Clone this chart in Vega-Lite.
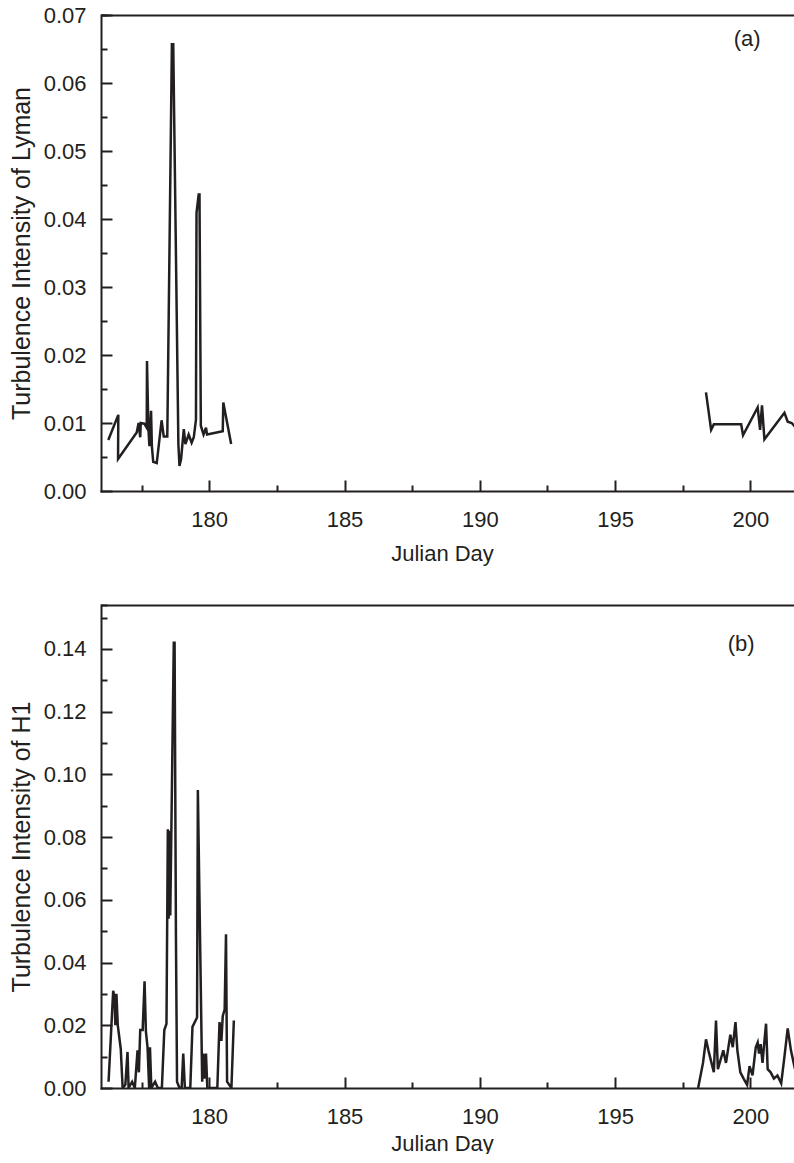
{
  "$schema": "https://vega.github.io/schema/vega-lite/v6.json",
  "padding": {"left": 9, "top": 4, "right": 0, "bottom": 0},
  "spacing": 40,
  "config": {
    "font": "Liberation Sans, sans-serif",
    "view": {"stroke": null},
    "axis": {
      "domainColor": "#231f20", "domainWidth": 2, "tickColor": "#231f20", "tickWidth": 2,
      "labelColor": "#231f20", "labelFontSize": 22, "titleColor": "#231f20", "titleFontSize": 22,
      "titleFontWeight": "normal", "labelFlush": false, "labelOverlap": false, "domainCap": "square"
    },
    "text": {"font": "Liberation Sans, sans-serif"}
  },
  "datasets": {
    "lyman": [
      {"i": 1, "seg": 1, "day": 176.27, "val": 0.0075},
      {"i": 2, "seg": 1, "day": 176.64, "val": 0.0112},
      {"i": 3, "seg": 1, "day": 176.63, "val": 0.0047},
      {"i": 4, "seg": 1, "day": 177.32, "val": 0.0086},
      {"i": 5, "seg": 1, "day": 177.39, "val": 0.0100},
      {"i": 6, "seg": 1, "day": 177.45, "val": 0.0079},
      {"i": 7, "seg": 1, "day": 177.47, "val": 0.0100},
      {"i": 8, "seg": 1, "day": 177.60, "val": 0.0099},
      {"i": 9, "seg": 1, "day": 177.69, "val": 0.0093},
      {"i": 10, "seg": 1, "day": 177.70, "val": 0.0191},
      {"i": 11, "seg": 1, "day": 177.75, "val": 0.0093},
      {"i": 12, "seg": 1, "day": 177.79, "val": 0.0066},
      {"i": 13, "seg": 1, "day": 177.85, "val": 0.0118},
      {"i": 14, "seg": 1, "day": 177.88, "val": 0.0066},
      {"i": 15, "seg": 1, "day": 177.93, "val": 0.0043},
      {"i": 16, "seg": 1, "day": 178.06, "val": 0.0041},
      {"i": 17, "seg": 1, "day": 178.24, "val": 0.0104},
      {"i": 18, "seg": 1, "day": 178.32, "val": 0.0080},
      {"i": 19, "seg": 1, "day": 178.45, "val": 0.0080},
      {"i": 20, "seg": 1, "day": 178.62, "val": 0.0657},
      {"i": 21, "seg": 1, "day": 178.67, "val": 0.0657},
      {"i": 22, "seg": 1, "day": 178.86, "val": 0.0069},
      {"i": 23, "seg": 1, "day": 178.90, "val": 0.0037},
      {"i": 24, "seg": 1, "day": 178.96, "val": 0.0047},
      {"i": 25, "seg": 1, "day": 179.06, "val": 0.0091},
      {"i": 26, "seg": 1, "day": 179.12, "val": 0.0069},
      {"i": 27, "seg": 1, "day": 179.24, "val": 0.0083},
      {"i": 28, "seg": 1, "day": 179.35, "val": 0.0071},
      {"i": 29, "seg": 1, "day": 179.43, "val": 0.0079},
      {"i": 30, "seg": 1, "day": 179.51, "val": 0.0105},
      {"i": 31, "seg": 1, "day": 179.53, "val": 0.0409},
      {"i": 32, "seg": 1, "day": 179.61, "val": 0.0436},
      {"i": 33, "seg": 1, "day": 179.64, "val": 0.0436},
      {"i": 34, "seg": 1, "day": 179.69, "val": 0.0096},
      {"i": 35, "seg": 1, "day": 179.79, "val": 0.0083},
      {"i": 36, "seg": 1, "day": 179.88, "val": 0.0093},
      {"i": 37, "seg": 1, "day": 179.92, "val": 0.0083},
      {"i": 38, "seg": 1, "day": 180.50, "val": 0.0088},
      {"i": 39, "seg": 1, "day": 180.52, "val": 0.0130},
      {"i": 40, "seg": 1, "day": 180.81, "val": 0.0069},
      {"i": 41, "seg": 2, "day": 198.36, "val": 0.0145},
      {"i": 42, "seg": 2, "day": 198.55, "val": 0.0090},
      {"i": 43, "seg": 2, "day": 198.65, "val": 0.0098},
      {"i": 44, "seg": 2, "day": 199.66, "val": 0.0098},
      {"i": 45, "seg": 2, "day": 199.73, "val": 0.0082},
      {"i": 46, "seg": 2, "day": 200.27, "val": 0.0123},
      {"i": 47, "seg": 2, "day": 200.36, "val": 0.0090},
      {"i": 48, "seg": 2, "day": 200.43, "val": 0.0126},
      {"i": 49, "seg": 2, "day": 200.52, "val": 0.0076},
      {"i": 50, "seg": 2, "day": 201.26, "val": 0.0115},
      {"i": 51, "seg": 2, "day": 201.38, "val": 0.0102},
      {"i": 52, "seg": 2, "day": 201.53, "val": 0.0100},
      {"i": 53, "seg": 2, "day": 201.75, "val": 0.0090}
    ],
    "h1": [
      {"i": 1, "seg": 1, "day": 176.28, "val": 0.002},
      {"i": 2, "seg": 1, "day": 176.45, "val": 0.031},
      {"i": 3, "seg": 1, "day": 176.50, "val": 0.029},
      {"i": 4, "seg": 1, "day": 176.53, "val": 0.020},
      {"i": 5, "seg": 1, "day": 176.57, "val": 0.030},
      {"i": 6, "seg": 1, "day": 176.62, "val": 0.020},
      {"i": 7, "seg": 1, "day": 176.73, "val": 0.0125},
      {"i": 8, "seg": 1, "day": 176.80, "val": 0.0},
      {"i": 9, "seg": 1, "day": 176.90, "val": 0.001},
      {"i": 10, "seg": 1, "day": 176.98, "val": 0.0115},
      {"i": 11, "seg": 1, "day": 177.02, "val": 0.0},
      {"i": 12, "seg": 1, "day": 177.15, "val": 0.002},
      {"i": 13, "seg": 1, "day": 177.25, "val": 0.0},
      {"i": 14, "seg": 1, "day": 177.35, "val": 0.012},
      {"i": 15, "seg": 1, "day": 177.40, "val": 0.005},
      {"i": 16, "seg": 1, "day": 177.45, "val": 0.0185},
      {"i": 17, "seg": 1, "day": 177.54, "val": 0.0185},
      {"i": 18, "seg": 1, "day": 177.61, "val": 0.034},
      {"i": 19, "seg": 1, "day": 177.66, "val": 0.018},
      {"i": 20, "seg": 1, "day": 177.72, "val": 0.013},
      {"i": 21, "seg": 1, "day": 177.78, "val": 0.0},
      {"i": 22, "seg": 1, "day": 177.81, "val": 0.013},
      {"i": 23, "seg": 1, "day": 177.86, "val": 0.0},
      {"i": 24, "seg": 1, "day": 178.00, "val": 0.002},
      {"i": 25, "seg": 1, "day": 178.10, "val": 0.0},
      {"i": 26, "seg": 1, "day": 178.25, "val": 0.0},
      {"i": 27, "seg": 1, "day": 178.34, "val": 0.0185},
      {"i": 28, "seg": 1, "day": 178.42, "val": 0.0205},
      {"i": 29, "seg": 1, "day": 178.47, "val": 0.0825},
      {"i": 30, "seg": 1, "day": 178.50, "val": 0.054},
      {"i": 31, "seg": 1, "day": 178.53, "val": 0.082},
      {"i": 32, "seg": 1, "day": 178.56, "val": 0.055},
      {"i": 33, "seg": 1, "day": 178.69, "val": 0.142},
      {"i": 34, "seg": 1, "day": 178.72, "val": 0.142},
      {"i": 35, "seg": 1, "day": 178.77, "val": 0.048},
      {"i": 36, "seg": 1, "day": 178.81, "val": 0.002},
      {"i": 37, "seg": 1, "day": 178.90, "val": 0.0},
      {"i": 38, "seg": 1, "day": 178.98, "val": 0.0},
      {"i": 39, "seg": 1, "day": 179.04, "val": 0.011},
      {"i": 40, "seg": 1, "day": 179.10, "val": 0.0},
      {"i": 41, "seg": 1, "day": 179.30, "val": 0.0},
      {"i": 42, "seg": 1, "day": 179.38, "val": 0.0195},
      {"i": 43, "seg": 1, "day": 179.55, "val": 0.0225},
      {"i": 44, "seg": 1, "day": 179.58, "val": 0.095},
      {"i": 45, "seg": 1, "day": 179.74, "val": 0.002},
      {"i": 46, "seg": 1, "day": 179.78, "val": 0.011},
      {"i": 47, "seg": 1, "day": 179.82, "val": 0.003},
      {"i": 48, "seg": 1, "day": 179.88, "val": 0.011},
      {"i": 49, "seg": 1, "day": 179.93, "val": 0.0},
      {"i": 50, "seg": 1, "day": 180.10, "val": 0.0},
      {"i": 51, "seg": 1, "day": 180.30, "val": 0.0},
      {"i": 52, "seg": 1, "day": 180.38, "val": 0.021},
      {"i": 53, "seg": 1, "day": 180.45, "val": 0.015},
      {"i": 54, "seg": 1, "day": 180.50, "val": 0.023},
      {"i": 55, "seg": 1, "day": 180.57, "val": 0.025},
      {"i": 56, "seg": 1, "day": 180.62, "val": 0.049},
      {"i": 57, "seg": 1, "day": 180.66, "val": 0.002},
      {"i": 58, "seg": 1, "day": 180.82, "val": 0.0},
      {"i": 59, "seg": 1, "day": 180.91, "val": 0.0215},
      {"i": 60, "seg": 2, "day": 198.07, "val": 0.0},
      {"i": 61, "seg": 2, "day": 198.25, "val": 0.008},
      {"i": 62, "seg": 2, "day": 198.36, "val": 0.0155},
      {"i": 63, "seg": 2, "day": 198.45, "val": 0.012},
      {"i": 64, "seg": 2, "day": 198.55, "val": 0.0085},
      {"i": 65, "seg": 2, "day": 198.65, "val": 0.005},
      {"i": 66, "seg": 2, "day": 198.73, "val": 0.0215},
      {"i": 67, "seg": 2, "day": 198.80, "val": 0.006},
      {"i": 68, "seg": 2, "day": 198.90, "val": 0.009},
      {"i": 69, "seg": 2, "day": 199.00, "val": 0.012},
      {"i": 70, "seg": 2, "day": 199.10, "val": 0.008},
      {"i": 71, "seg": 2, "day": 199.26, "val": 0.017},
      {"i": 72, "seg": 2, "day": 199.35, "val": 0.013},
      {"i": 73, "seg": 2, "day": 199.45, "val": 0.021},
      {"i": 74, "seg": 2, "day": 199.52, "val": 0.012},
      {"i": 75, "seg": 2, "day": 199.63, "val": 0.005},
      {"i": 76, "seg": 2, "day": 199.75, "val": 0.003},
      {"i": 77, "seg": 2, "day": 199.88, "val": 0.001},
      {"i": 78, "seg": 2, "day": 199.97, "val": 0.007},
      {"i": 79, "seg": 2, "day": 200.08, "val": 0.004},
      {"i": 80, "seg": 2, "day": 200.20, "val": 0.013},
      {"i": 81, "seg": 2, "day": 200.27, "val": 0.0145},
      {"i": 82, "seg": 2, "day": 200.32, "val": 0.011},
      {"i": 83, "seg": 2, "day": 200.38, "val": 0.014},
      {"i": 84, "seg": 2, "day": 200.45, "val": 0.008},
      {"i": 85, "seg": 2, "day": 200.50, "val": 0.013},
      {"i": 86, "seg": 2, "day": 200.58, "val": 0.0205},
      {"i": 87, "seg": 2, "day": 200.64, "val": 0.006},
      {"i": 88, "seg": 2, "day": 200.75, "val": 0.005},
      {"i": 89, "seg": 2, "day": 200.87, "val": 0.003},
      {"i": 90, "seg": 2, "day": 201.00, "val": 0.004},
      {"i": 91, "seg": 2, "day": 201.14, "val": 0.0015},
      {"i": 92, "seg": 2, "day": 201.26, "val": 0.010},
      {"i": 93, "seg": 2, "day": 201.38, "val": 0.019},
      {"i": 94, "seg": 2, "day": 201.50, "val": 0.012},
      {"i": 95, "seg": 2, "day": 201.65, "val": 0.006}
    ]
  },
  "vconcat": [
    {
      "width": 694,
      "height": 476,
      "layer": [
        {
          "data": {"name": "lyman"},
          "mark": {"type": "line", "color": "#231f20", "strokeWidth": 2.5, "clip": true},
          "encoding": {
            "x": {"field": "day", "type": "quantitative",
              "scale": {"domain": [176, 201.65], "nice": false, "zero": false},
              "axis": {"orient": "bottom", "values": [180, 185, 190, 195, 200], "tickSize": -11, "labelPadding": 29,
                "title": "Julian Day", "titlePadding": 13, "titleX": 341, "grid": false}},
            "y": {"field": "val", "type": "quantitative",
              "scale": {"domain": [0, 0.07], "nice": false},
              "axis": {"orient": "left", "values": [0, 0.01, 0.02, 0.03, 0.04, 0.05, 0.06, 0.07], "format": ".2f",
                "tickSize": -11, "labelPadding": 26, "title": "Turbulence Intensity of Lyman", "titleFontSize": 25, "titlePadding": 9, "grid": false}},
            "detail": {"field": "seg", "type": "nominal"},
            "order": {"field": "i", "type": "quantitative"}
          }
        },
        {
          "data": {"values": [{"day": 199.88, "val": 0.0664, "label": "(a)"}]},
          "mark": {"type": "text", "fontSize": 22, "color": "#231f20", "align": "center", "baseline": "middle"},
          "encoding": {
            "x": {"field": "day", "type": "quantitative",
              "axis": {"orient": "bottom", "values": [177.5, 182.5, 187.5, 192.5, 197.5], "tickSize": -6, "labels": false, "domain": false, "title": null, "grid": false}},
            "y": {"field": "val", "type": "quantitative",
              "axis": {"orient": "left", "values": [0.005, 0.015, 0.025, 0.035, 0.045, 0.055, 0.065, 0.07], "tickSize": -6, "labels": false, "domain": false, "title": null,
                "grid": true, "gridColor": "#231f20", "gridWidth": 2,
                "gridOpacity": {"condition": {"test": "datum.value > 0.0695", "value": 1}, "value": 0}}},
            "text": {"field": "label", "type": "nominal"}
          }
        }
      ],
      "resolve": {"axis": {"x": "independent", "y": "independent"}}
    },
    {
      "width": 694,
      "height": 483,
      "layer": [
        {
          "data": {"name": "h1"},
          "mark": {"type": "line", "color": "#231f20", "strokeWidth": 2.5, "clip": true},
          "encoding": {
            "x": {"field": "day", "type": "quantitative",
              "scale": {"domain": [176, 201.65], "nice": false, "zero": false},
              "axis": {"orient": "bottom", "values": [180, 185, 190, 195, 200], "tickSize": -11, "labelPadding": 29,
                "title": "Julian Day", "titlePadding": 6, "titleX": 341, "grid": false}},
            "y": {"field": "val", "type": "quantitative",
              "scale": {"domain": [0, 0.154], "nice": false},
              "axis": {"orient": "left", "values": [0, 0.02, 0.04, 0.06, 0.08, 0.10, 0.12, 0.14], "format": ".2f",
                "tickSize": -11, "labelPadding": 26, "title": "Turbulence Intensity of H1", "titleFontSize": 25, "titlePadding": 9, "grid": false}},
            "detail": {"field": "seg", "type": "nominal"},
            "order": {"field": "i", "type": "quantitative"}
          }
        },
        {
          "data": {"values": [{"day": 199.66, "val": 0.1416, "label": "(b)"}]},
          "mark": {"type": "text", "fontSize": 22, "color": "#231f20", "align": "center", "baseline": "middle"},
          "encoding": {
            "x": {"field": "day", "type": "quantitative",
              "axis": {"orient": "bottom", "values": [177.5, 182.5, 187.5, 192.5, 197.5], "tickSize": -6, "labels": false, "domain": false, "title": null, "grid": false}},
            "y": {"field": "val", "type": "quantitative",
              "axis": {"orient": "left", "values": [0.01, 0.03, 0.05, 0.07, 0.09, 0.11, 0.13, 0.15, 0.154], "tickSize": -6, "labels": false, "domain": false, "title": null,
                "grid": true, "gridColor": "#231f20", "gridWidth": 2,
                "gridOpacity": {"condition": {"test": "datum.value > 0.153", "value": 1}, "value": 0}}},
            "text": {"field": "label", "type": "nominal"}
          }
        }
      ],
      "resolve": {"axis": {"x": "independent", "y": "independent"}}
    }
  ]
}
